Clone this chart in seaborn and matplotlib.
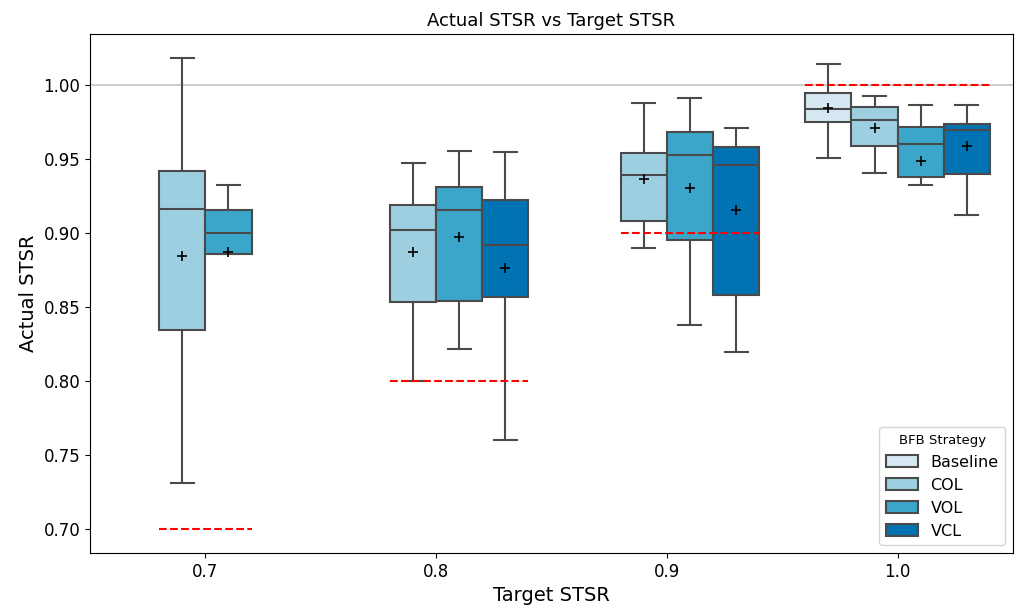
import matplotlib
matplotlib.use("Agg")
import matplotlib.pyplot as plt
import seaborn as sns
import pandas as pd

# ---- data ----
targets = ["0.7", "0.8", "0.9", "1.0"]
target_values = [0.7, 0.8, 0.9, 1.0]
strategies = ["Baseline", "COL", "VOL", "VCL"]
colors = ["#d6e8f1", "#9dcfe1", "#3ca6ca", "#0173b2"]

col_07 = [0.7315, 0.770, 0.8348, 0.865, 0.9164, 0.926, 0.942, 0.958, 1.0184]
vol_07 = [0.7521, 0.8858, 0.8858, 0.890, 0.8998, 0.905, 0.9155, 0.920, 0.9326]

col_08 = [0.8000, 0.830, 0.8535, 0.880, 0.9022, 0.910, 0.9191, 0.9413, 0.9469]
vol_08 = [0.8216, 0.840, 0.8539, 0.890, 0.9157, 0.925, 0.9310, 0.9453, 0.9550]
vcl_08 = [0.7600, 0.810, 0.8569, 0.870, 0.8921, 0.895, 0.9225, 0.9281, 0.9548]

col_09 = [0.8897, 0.905, 0.9079, 0.935, 0.9393, 0.950, 0.9539, 0.9589, 0.9879]
vol_09 = [0.8378, 0.870, 0.8953, 0.925, 0.9528, 0.960, 0.9679, 0.9729, 0.9910]
vcl_09 = [0.8198, 0.850, 0.8582, 0.9162, 0.9461, 0.955, 0.9582, 0.965, 0.9710]

base_10 = [0.9508, 0.965, 0.9746, 0.980, 0.9838, 0.990, 0.9944, 1.0044, 1.0139]
col_10 = [0.9407, 0.950, 0.9584, 0.970, 0.9764, 0.980, 0.9847, 0.9864, 0.9924]
vol_10 = [0.8617, 0.9326, 0.9378, 0.945, 0.9598, 0.965, 0.9715, 0.975, 0.9863]
vcl_10 = [0.9124, 0.930, 0.9396, 0.960, 0.9695, 0.971, 0.9737, 0.9831, 0.9863]

groups = [
    ("0.7", "COL", col_07), ("0.7", "VOL", vol_07),
    ("0.8", "COL", col_08), ("0.8", "VOL", vol_08), ("0.8", "VCL", vcl_08),
    ("0.9", "COL", col_09), ("0.9", "VOL", vol_09), ("0.9", "VCL", vcl_09),
    ("1.0", "Baseline", base_10), ("1.0", "COL", col_10),
    ("1.0", "VOL", vol_10), ("1.0", "VCL", vcl_10),
]

rows = []
for t, s, vals in groups:
    for v in vals:
        rows.append({"Target STSR": t, "BFB Strategy": s, "Actual STSR": v})
df = pd.DataFrame(rows)

# ---- plot ----
fig, ax = plt.subplots(figsize=(10.16, 6.06), dpi=100)
fig.subplots_adjust(left=0.0886, right=0.997, top=0.944, bottom=0.0875)

ax.axhline(1.0, color="#c8c8c8", linewidth=1.3, zorder=0)

sns.boxplot(
    data=df, x="Target STSR", y="Actual STSR", hue="BFB Strategy",
    order=targets, hue_order=strategies, palette=colors, saturation=1,
    showmeans=True, showfliers=False, linewidth=1.5, linecolor="#4a4a4a",
    meanprops={"marker": "+", "markeredgecolor": "black",
               "markerfacecolor": "black", "markersize": 6.5,
               "markeredgewidth": 1.2},
    ax=ax,
)

# red dashed target lines spanning the boxes present in each group
n = len(strategies)
w = 0.8 / n
for i, (t, tv) in enumerate(zip(targets, target_values)):
    present = [strategies.index(s) for tt, s, _ in groups if tt == t]
    x0 = i - 0.4 + w * min(present)
    x1 = i - 0.4 + w * (max(present) + 1)
    ax.plot([x0, x1], [tv, tv], color="red", linestyle="--", linewidth=1.5,
            zorder=5)

ax.set_xlim(-0.5, 3.5)
ax.set_title("Actual STSR vs Target STSR", fontsize=13)
ax.set_xlabel("Target STSR", fontsize=14)
ax.set_ylabel("Actual STSR", fontsize=14)
ax.tick_params(axis="both", labelsize=12)

leg = ax.legend(loc="lower right", title="BFB Strategy", fontsize=11.5,
                title_fontsize=9.5, labelspacing=0.5)

fig.savefig("out.png", dpi=100)
